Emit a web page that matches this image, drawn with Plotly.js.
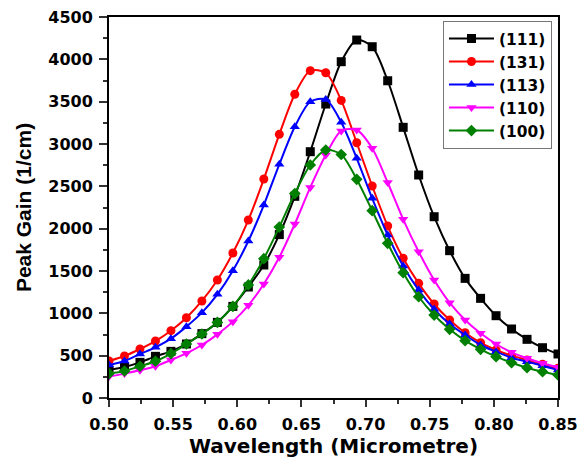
<!DOCTYPE html>
<html>
<head>
<meta charset="utf-8">
<script src="https://cdn.plot.ly/plotly-3.0.1.min.js"></script>
<style>html,body{margin:0;padding:0;background:#fff;}#chart{width:583px;height:459px;}</style>
</head>
<body>
<div id="chart"></div>
<script>
var wavelength = [0.50000,0.51207,0.52414,0.53621,0.54828,0.56034,0.57241,0.58448,0.59655,0.60862,0.62069,0.63276,0.64483,0.65690,0.66897,0.68103,0.69310,0.70517,0.71724,0.72931,0.74138,0.75345,0.76552,0.77759,0.78966,0.80172,0.81379,0.82586,0.83793,0.85000];
var gain111 = [331,366,421,492,551,638,760,893,1082,1311,1571,1930,2382,2909,3472,3972,4228,4149,3747,3197,2634,2141,1740,1413,1177,972,815,693,594,520];
var gain131 = [437,496,579,673,795,948,1146,1394,1712,2102,2586,3114,3587,3866,3842,3515,3015,2504,2031,1650,1354,1110,921,771,653,567,500,449,398,351];
var gain113 = [390,437,520,599,701,843,1008,1225,1504,1854,2279,2760,3204,3499,3527,3257,2831,2358,1925,1559,1275,1048,874,744,626,547,476,429,382,331];
var gain110 = [253,288,327,375,449,528,626,752,902,1095,1347,1662,2055,2487,2870,3155,3165,2949,2545,2110,1728,1394,1126,921,764,638,539,469,410,362];
var gain100 = [288,319,375,434,525,638,756,893,1082,1335,1645,2019,2415,2752,2929,2876,2583,2212,1827,1480,1196,980,811,677,575,488,417,358,311,272];
var seriesNames = ['(111)','(131)','(113)','(110)','(100)'];
var seriesColors = ['#000000','#ff0000','#0000ff','#ff00ff','#008000'];
var seriesSymbols = ['square','circle','triangle-up','triangle-down','diamond'];
var seriesData = [gain111,gain131,gain113,gain110,gain100];

var traces = seriesData.map(function(d,k){
  return {
    x: wavelength, y: d, name: seriesNames[k], type:'scatter', mode:'lines+markers',
    line:{color:seriesColors[k], width:2, shape:'spline', smoothing:0.8},
    marker:{symbol:seriesSymbols[k], size: 9, color:seriesColors[k]}
  };
});

var wideBold = 'DejaVu Sans, Verdana, sans-serif';
var arialBold = 'Liberation Sans, Arial, sans-serif';
var tickFont = {family:wideBold, size:16, color:'#000', weight:'bold'};
var layout = {
  width:583, height:459,
  margin:{l:109, r:25, t:17, b:61},
  paper_bgcolor:'#fff', plot_bgcolor:'#fff',
  showlegend:true,
  xaxis:{
    range:[0.5,0.85], dtick:0.05, tick0:0.5, tickformat:'.2f',
    showgrid:false, zeroline:false,
    showline:true, linecolor:'#000', linewidth:2, mirror:true,
    ticks:'outside', ticklen:7, tickwidth:2, tickcolor:'#333',
    minor:{dtick:0.025, ticks:'outside', ticklen:4, tickwidth:2, tickcolor:'#333'},
    tickfont:tickFont, ticklabelstandoff:4,
    title:{text:'Wavelength (Micrometre)', font:{family:wideBold, size:20, color:'#000', weight:'bold'}, standoff:6}
  },
  yaxis:{
    range:[0,4500], dtick:500, tick0:0,
    showgrid:false, zeroline:false,
    showline:true, linecolor:'#000', linewidth:2, mirror:true,
    ticks:'outside', ticklen:8, tickwidth:2, tickcolor:'#333',
    minor:{dtick:250, ticks:'outside', ticklen:4, tickwidth:2, tickcolor:'#333'},
    tickfont:tickFont, ticklabelstandoff:3,
    title:{text:'Peak Gain (1/cm)', font:{family:arialBold, size:21, color:'#000', weight:'bold'}, standoff:11}
  },
  legend:{
    x:0.9866, y:0.9895, xanchor:'right', yanchor:'top',
    bgcolor:'#fff', bordercolor:'#777', borderwidth:1,
    font:{family:wideBold, size:15.4, color:'#000', weight:'bold'},
    tracegroupgap:0, itemwidth:45
  }
};
Plotly.newPlot('chart', traces, layout, {displayModeBar:false, staticPlot:true});
</script>
</body>
</html>
